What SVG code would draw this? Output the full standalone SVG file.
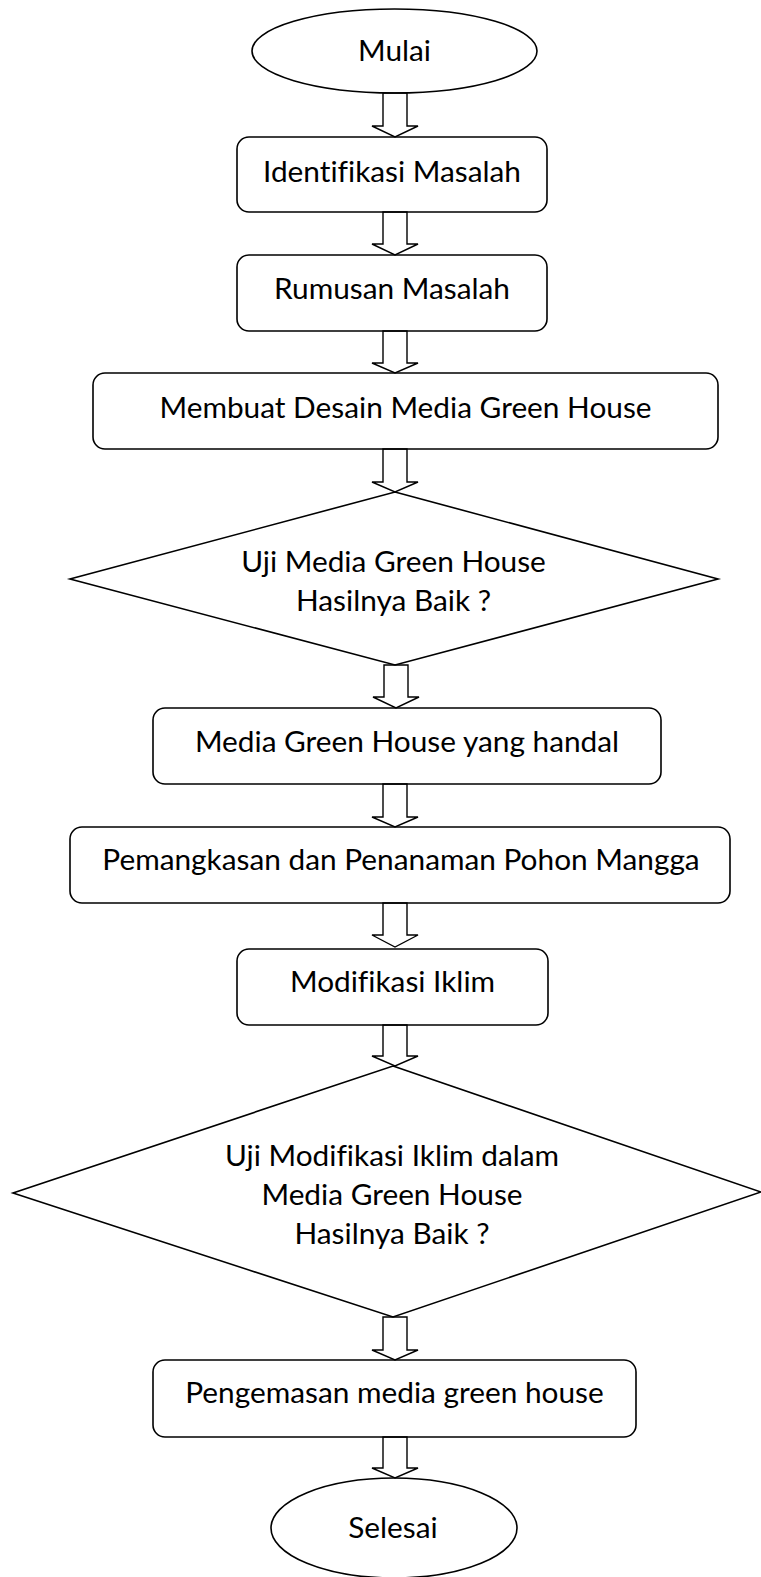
<svg xmlns="http://www.w3.org/2000/svg" width="761" height="1577" viewBox="0 0 761 1577">
<style>
.s{fill:#fff;stroke:#000;stroke-width:1.6}
.a{fill:none;stroke:#000;stroke-width:1.4;stroke-linejoin:miter}
.t{font-family:Lato,"Liberation Sans",sans-serif;font-size:29.8px;fill:#000;text-anchor:middle;font-variant-ligatures:none;font-feature-settings:"liga" 0}
</style>
<rect width="761" height="1577" fill="#fff"/>
<g id="mulai"><ellipse class="s" cx="394.5" cy="51" rx="142.5" ry="42"/><text class="t" x="394.5" y="61">Mulai</text></g>
<g id="identifikasi"><rect class="s" x="237" y="137" width="310" height="75" rx="12"/><text class="t" x="392" y="182">Identifikasi Masalah</text></g>
<g id="rumusan"><rect class="s" x="237" y="255" width="310" height="76" rx="12"/><text class="t" x="392" y="299">Rumusan Masalah</text></g>
<g id="desain"><rect class="s" x="93" y="373" width="625" height="76" rx="12"/><text class="t" x="405.5" y="418">Membuat Desain Media Green House</text></g>
<g id="uji1"><polygon class="s" points="395,492 718,579 395,665 70,579"/><text class="t" x="393.5" y="572">Uji Media Green House</text><text class="t" x="393.5" y="611">Hasilnya Baik ?</text></g>
<g id="handal"><rect class="s" x="153" y="708" width="508" height="76" rx="12"/><text class="t" x="407" y="752">Media Green House yang handal</text></g>
<g id="pemangkasan"><rect class="s" x="70" y="827" width="660" height="76" rx="12"/><text class="t" x="401" y="870">Pemangkasan dan Penanaman Pohon Mangga</text></g>
<g id="modifikasi"><rect class="s" x="237" y="949" width="311" height="76" rx="12"/><text class="t" x="392.5" y="992">Modifikasi Iklim</text></g>
<g id="uji2"><polygon class="s" points="393,1066 761,1192 393,1317 13,1193"/><text class="t" x="392" y="1166">Uji Modifikasi Iklim dalam</text><text class="t" x="392" y="1205">Media Green House</text><text class="t" x="392" y="1244">Hasilnya Baik ?</text></g>
<g id="pengemasan"><rect class="s" x="153" y="1360" width="483" height="77" rx="12"/><text class="t" x="394.5" y="1403">Pengemasan media green house</text></g>
<g id="selesai"><ellipse class="s" cx="394" cy="1528" rx="123" ry="50"/><text class="t" x="393" y="1538">Selesai</text></g>
<g id="connectors">
<polygon class="a" points="383,93 407,93 407,126 418,126 395,137 372,126 383,126"/>
<polygon class="a" points="383,212 407,212 407,244 418,244 395,255 372,244 383,244"/>
<polygon class="a" points="383,331 407,331 407,363 418,363 395,373 372,363 383,363"/>
<polygon class="a" points="383,449 407,449 407,482 418,482 395,492 372,482 383,482"/>
<polygon class="a" points="384,665 408,665 408,697 419,697 396,708 373,697 384,697"/>
<polygon class="a" points="383,784 407,784 407,817 418,817 395,827 372,817 383,817"/>
<polygon class="a" points="383,903 407,903 407,935 418,935 395,947 372,935 383,935"/>
<polygon class="a" points="383,1025 407,1025 407,1056 418,1056 395,1066 372,1056 383,1056"/>
<polygon class="a" points="383,1317 407,1317 407,1350 418,1350 395,1360 372,1350 383,1350"/>
<polygon class="a" points="383,1437 407,1437 407,1468 418,1468 395,1478 372,1468 383,1468"/>
</g>
</svg>
